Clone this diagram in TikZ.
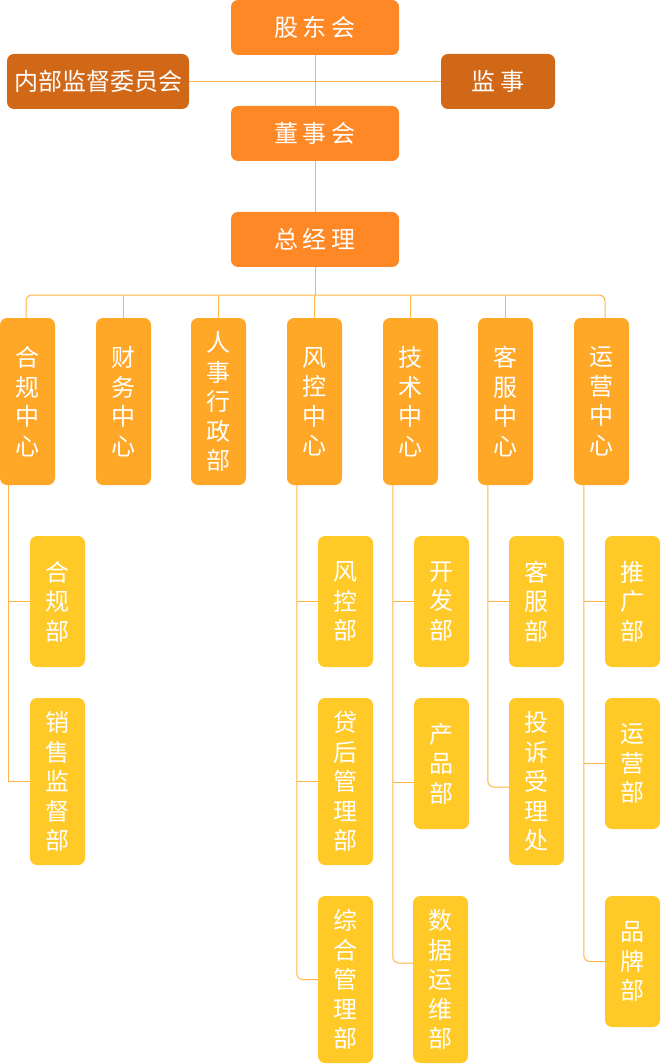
\documentclass[tikz,border=0pt]{standalone}
\usepackage{fontspec}
\newfontfamily\cjk{Noto Sans CJK SC}
\definecolor{cTop}{HTML}{FF8826}
\definecolor{cSide}{HTML}{D06818}
\definecolor{cMid}{HTML}{FFA726}
\definecolor{cLow}{HTML}{FFC928}
\definecolor{cLine}{HTML}{FFB547}
\tikzset{
  bx/.style={rounded corners=7pt, inner sep=0pt, text=white, align=center,
    font=\cjk\fontsize{24}{29.5}\selectfont},
  topbox/.style={bx, fill=cTop, minimum width=168pt, minimum height=55pt},
  sidebox/.style={bx, fill=cSide, minimum height=55pt},
  midbox/.style={bx, fill=cMid, minimum width=55pt, minimum height=167pt},
  lowbox/.style={bx, fill=cLow, minimum width=55pt},
  lowthree/.style={lowbox, minimum height=131pt},
  lowfive/.style={lowbox, minimum height=167pt},
  ln/.style={draw=cLine, line width=1pt},
  lnr/.style={ln, rounded corners=6pt}
}
\newcommand{\gapsp}{\hspace{5pt}}
\begin{document}
\begin{tikzpicture}[x=1pt,y=-1pt]
\useasboundingbox (0,0) rectangle (661,1064);
% top level
\node[topbox] (gd) at (315,27.5) {股\gapsp 东\gapsp 会};
\node[sidebox, minimum width=182pt] (nb) at (98,81.5) {内部监督委员会};
\node[sidebox, minimum width=114pt] (js) at (498,81.5) {监\gapsp 事};
\node[topbox] (ds) at (315,133.5) {董\gapsp 事\gapsp 会};
\node[topbox] (zj) at (315,239.5) {总\gapsp 经\gapsp 理};
% level 2
\node[midbox] (hg) at (27.5,401.5) {合\\规\\中\\心};
\node[midbox] (cw) at (123.5,401.5) {财\\务\\中\\心};
\node[midbox] (rs) at (218.5,401.5) {人\\事\\行\\政\\部};
\node[midbox] (fk) at (314.5,401.5) {风\\控\\中\\心};
\node[midbox] (js2) at (410.5,401.5) {技\\术\\中\\心};
\node[midbox] (kf) at (505.5,401.5) {客\\服\\中\\心};
\node[midbox] (yy) at (601.5,401.5) {运\\营\\中\\心};
% level 3
\node[lowthree] (hgb) at (57.5,601.5) {合\\规\\部};
\node[lowfive] (xs) at (57.5,781.5) {销\\售\\监\\督\\部};
\node[lowthree] (fkb) at (345.5,601.5) {风\\控\\部};
\node[lowfive] (dh) at (345.5,781.5) {贷\\后\\管\\理\\部};
\node[lowfive] (zh) at (345.5,979.5) {综\\合\\管\\理\\部};
\node[lowthree] (kfb) at (441.5,601.5) {开\\发\\部};
\node[lowthree] (cp) at (441.5,763.5) {产\\品\\部};
\node[lowfive] (sj) at (440.5,979.5) {数\\据\\运\\维\\部};
\node[lowthree] (kfu) at (536.5,601.5) {客\\服\\部};
\node[lowfive] (ts) at (536.5,781.5) {投\\诉\\受\\理\\处};
\node[lowthree] (tg) at (632.5,601.5) {推\\广\\部};
\node[lowthree] (yyb) at (632.5,763.5) {运\\营\\部};
\node[lowthree] (pp) at (632.5,961.5) {品\\牌\\部};
% connectors top
\draw[ln] (gd) -- (ds);
\draw[ln] (nb) -- (js);
\draw[ln] (ds) -- (zj);
\coordinate (bus) at (315,295);
\draw[lnr] ([xshift=-1.5pt]hg.north) |- (bus) -| ([xshift=3.5pt]yy.north);
\draw[ln] (zj.south) -- (bus);
\foreach \n in {cw,rs,fk,js2,kf}{\draw[ln] (\n.north) -- (\n.north |- bus);}
% spines
\coordinate (s1) at ([xshift=9pt]hg.south west);
\coordinate (s2) at ([xshift=10pt]fk.south west);
\coordinate (s3) at ([xshift=10pt]js2.south west);
\coordinate (s4) at ([xshift=10pt]kf.south west);
\coordinate (s5) at ([xshift=10pt]yy.south west);
\draw[ln] (s1) |- (xs.west);
\draw[ln] (hgb.west) -- (hgb.west -| s1);
\draw[lnr] (s2) |- (zh.west);
\draw[ln] (fkb.west) -- (fkb.west -| s2);
\draw[ln] (dh.west) -- (dh.west -| s2);
\draw[lnr] (s3) |- ([yshift=16.5pt]sj.west);
\draw[ln] (kfb.west) -- (kfb.west -| s3);
\draw[ln] ([yshift=-18.5pt]cp.west) -- ([yshift=-18.5pt]cp.west -| s3);
\draw[lnr] (s4) |- ([yshift=-5.5pt]ts.west);
\draw[ln] (kfu.west) -- (kfu.west -| s4);
\draw[lnr] (s5) |- (pp.west);
\draw[ln] (tg.west) -- (tg.west -| s5);
\draw[ln] (yyb.west) -- (yyb.west -| s5);
\end{tikzpicture}
\end{document}
